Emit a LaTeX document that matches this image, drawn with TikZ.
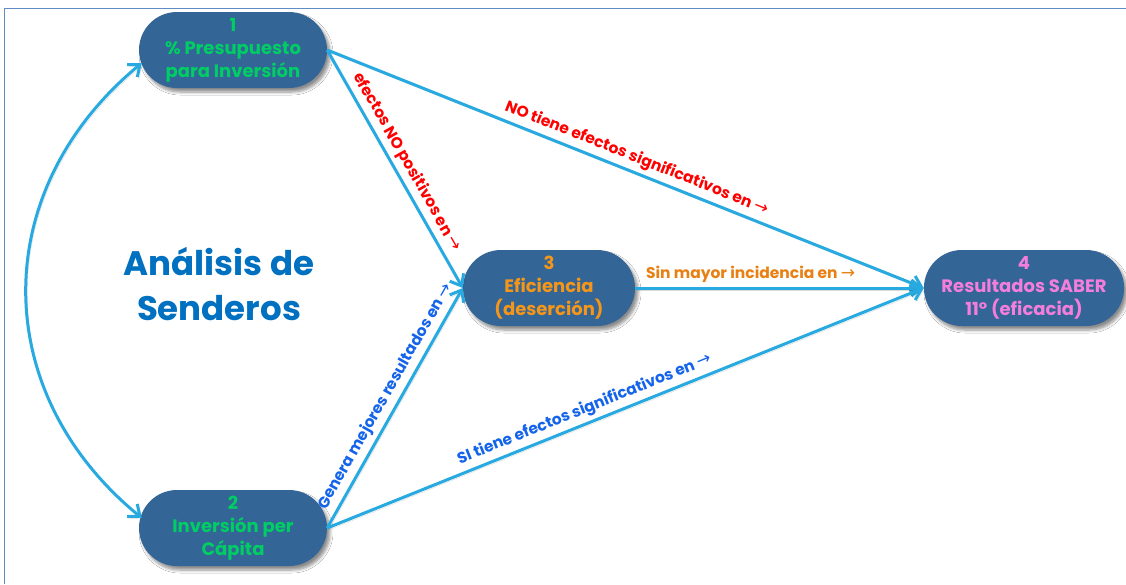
\documentclass[tikz,border=0pt]{standalone}
\usepackage{fontspec}
\setmainfont{Poppins}
\newfontfamily\arrowfont{DejaVu Sans}
\usetikzlibrary{arrows.meta,shapes.misc,shadows.blur,calc}

\definecolor{boxfill}{RGB}{51,101,150}
\definecolor{linkblue}{RGB}{40,170,225}
\definecolor{framecol}{RGB}{95,140,195}
\definecolor{txtgreen}{RGB}{0,205,100}
\definecolor{txtorange}{RGB}{245,150,25}
\definecolor{txtpink}{RGB}{245,125,220}
\definecolor{titleblue}{RGB}{0,112,192}
\definecolor{labred}{RGB}{255,0,0}
\definecolor{labblue}{RGB}{20,100,235}
\definecolor{laborange}{RGB}{232,128,20}

\newcommand{\rarr}{{\arrowfont\mdseries\fontsize{17}{17}\selectfont →}}

\tikzset{
  pill/.style={rounded rectangle, fill=boxfill, minimum height=76pt,
    inner sep=1pt, align=center,
    font=\bfseries\fontsize{18}{23}\selectfont,
    blur shadow={shadow xshift=3pt, shadow yshift=-4pt,
      shadow blur steps=6, shadow blur radius=3pt, shadow opacity=45}},
  link/.style={draw=linkblue, line width=3pt,
    preaction={draw=black, opacity=.15,
      transform canvas={shift={(1.5pt,-2pt)}}}},
  tip/.style={-{Straight Barb[length=10pt,width=16pt,line width=3pt]}},
  tips/.style={{Straight Barb[length=10pt,width=16pt,line width=3pt]}-{Straight Barb[length=10pt,width=16pt,line width=3pt]}},
  lab/.style={sloped, above, inner sep=4pt,
    font=\bfseries\fontsize{15.5}{18}\selectfont},
  frame/.style={draw=framecol, line width=1.8pt}
}

\begin{document}
\begin{tikzpicture}[x=1pt,y=-1pt]
  \useasboundingbox (0,0) rectangle (1126,584);
  \fill[white] (0,0) rectangle (1126,584);
  \draw[frame] (4.5,584) -- (4.5,8.5) -- (1126,8.5);

  % the four variables
  \node[pill, minimum width=190pt, text=txtgreen] (n1) at (233,50)
    {1\\\% Presupuesto\\para Inversión};
  \node[pill, minimum width=190pt, text=txtgreen] (n2) at (233,528)
    {2\\Inversión per\\Cápita};
  \node[pill, minimum width=174pt, text=txtorange] (n3) at (549,288)
    {3\\Eficiencia\\(deserción)};
  \node[pill, minimum width=200pt, text=txtpink] (n4) at (1024,288)
    {4\\Resultados SABER\\11° (eficacia)};

  % title
  \node[text=titleblue, align=center,
    font=\bfseries\fontsize{34}{45}\selectfont] (title) at (219,284)
    {Análisis de\\Senderos};

  % end points of the curved link
  \coordinate (a1) at ($(n1.west)+(3,13)$);
  \coordinate (a2) at ($(n2.west)+(3,-10)$);

  % correlation between 1 and 2
  \draw[link, tips] (a1) .. controls (-12,190) and (-12,392) .. (a2);

  % paths
  \draw[link, tip] (n1.east) -- node[lab, text=labred, pos=.5]
    {efectos NO positivos en \rarr} (n3.west);
  \draw[link, tip] (n1.east) -- node[lab, text=labred, pos=.51]
    {NO tiene efectos significativos en \rarr} (n4.west);
  \draw[link, tip] (n3.east) -- node[lab, text=laborange, pos=.4]
    {Sin mayor incidencia en \rarr} (n4.west);
  \draw[link, tip] (n2.east) -- node[lab, text=labblue, pos=.52]
    {Genera mejores resultados en \rarr} (n3.west);
  \draw[link, tip] (n2.east) -- node[lab, text=labblue, pos=.44]
    {SI tiene efectos significativos en \rarr} (n4.west);
\end{tikzpicture}
\end{document}
